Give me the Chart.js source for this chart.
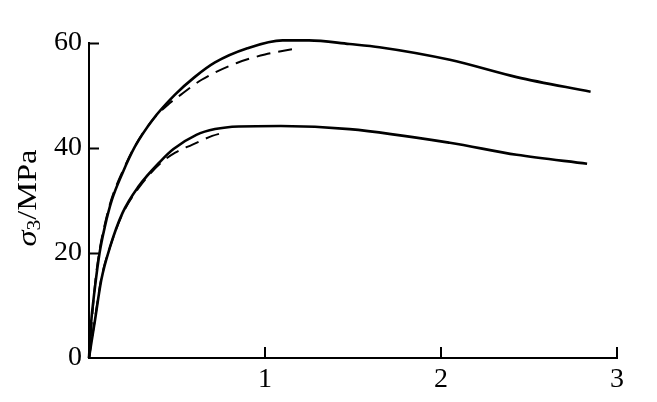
<!DOCTYPE html>
<html><head><meta charset="utf-8">
<script src="https://cdn.jsdelivr.net/npm/chart.js@4/dist/chart.umd.min.js"></script>
<style>html,body{margin:0;padding:0;background:#fff}#w{width:657px;height:402px}</style>
</head><body><div id="w"><canvas id="c" width="657" height="402"></canvas></div>
<script>
const upperSolidX = [0, 0.01, 0.034, 0.06, 0.09, 0.13, 0.19, 0.26, 0.36, 0.49, 0.60, 0.716, 0.90, 1.10, 1.25, 1.48, 1.65, 2.05, 2.43, 2.85];
const upperSolidY = [0, 5.9, 13.5, 20, 25, 30.1, 35.2, 40.2, 45.3, 50.2, 53.5, 56.3, 59, 60.5, 60.5, 59.8, 59.2, 56.8, 53.5, 50.7];
const lowerSolidX = [0, 0.034, 0.07, 0.12, 0.19, 0.28, 0.41, 0.48, 0.61, 0.716, 0.85, 1.09, 1.48, 2.05, 2.43, 2.83];
const lowerSolidY = [0, 7.2, 14.9, 21.2, 27.6, 32.6, 37.6, 39.8, 42.5, 43.6, 44.1, 44.2, 43.6, 41, 38.7, 37];
const upperDashX = [0, 0.034, 0.06, 0.09, 0.13, 0.19, 0.26, 0.36, 0.45, 0.50, 0.64, 0.84, 1.00, 1.17];
const upperDashY = [0, 14, 20.5, 25.5, 30.5, 35.5, 40.3, 45.3, 48.3, 49.6, 53, 56.2, 57.8, 58.9];
const lowerDashX = [0, 0.034, 0.07, 0.12, 0.19, 0.28, 0.41, 0.49, 0.585, 0.70, 0.76];
const lowerDashY = [0, 7.5, 15.2, 21.2, 27.4, 32.3, 37.2, 39.1, 40.6, 42.3, 42.9];
const xTicks = [1, 2, 3];
const yTicks = [0, 20, 40, 60];
const yLabelMain = "σ";
const yLabelSub = "3";
const yLabelRest = "/MPa";

const pts = (xs, ys) => xs.map((x, i) => ({x: x, y: ys[i]}));
const FONT = "'Liberation Serif', 'Times New Roman', serif";

const innerTicks = {
  id: 'innerTicks',
  afterDraw(chart) {
    const ctx = chart.ctx, xs = chart.scales.x, ys = chart.scales.y;
    ctx.save();
    ctx.strokeStyle = '#000';
    ctx.lineWidth = 2;
    ctx.beginPath();
    yTicks.filter(v => v > 0).forEach(v => {
      const p = Math.round(ys.getPixelForValue(v)) + 0.5;
      ctx.moveTo(xs.left, p); ctx.lineTo(xs.left + 10, p);
    });
    xTicks.forEach(v => {
      const p = Math.round(xs.getPixelForValue(v));
      ctx.moveTo(p, ys.bottom); ctx.lineTo(p, ys.bottom - 11);
    });
    ctx.stroke();
    // y title
    ctx.translate(29, 198);
    ctx.rotate(-Math.PI / 2);
    ctx.scale(1.2, 1);
    ctx.fillStyle = '#000';
    ctx.textBaseline = 'middle';
    const f1 = "italic 27px " + FONT, f2 = "18px " + FONT, f3 = "27px " + FONT;
    ctx.font = f1; const w1 = ctx.measureText(yLabelMain).width;
    ctx.font = f2; const w2 = ctx.measureText(yLabelSub).width;
    ctx.font = f3; const w3 = ctx.measureText(yLabelRest).width;
    let x0 = -(w1 + w2 + w3) / 2;
    ctx.font = f1; ctx.fillText(yLabelMain, x0, 0); x0 += w1;
    ctx.font = f2; ctx.fillText(yLabelSub, x0, 6); x0 += w2;
    ctx.font = f3; ctx.fillText(yLabelRest, x0, 0);
    ctx.restore();
  }
};

const lineDs = (data, dashed) => ({
  data: data,
  borderColor: '#000',
  borderWidth: dashed ? 2 : 2.6,
  borderDash: dashed ? [14, 8] : [],
  pointRadius: 0,
  fill: false,
  clip: false,
  cubicInterpolationMode: 'monotone'
});

new Chart(document.getElementById('c'), {
  type: 'line',
  data: {
    datasets: [
      lineDs(pts(upperSolidX, upperSolidY), false),
      lineDs(pts(lowerSolidX, lowerSolidY), false),
      lineDs(pts(upperDashX, upperDashY), true),
      lineDs(pts(lowerDashX, lowerDashY), true)
    ]
  },
  options: {
    responsive: false,
    animation: false,
    layout: {padding: {left: 0, top: 43, right: 40, bottom: 0}},
    plugins: {legend: {display: false}, tooltip: {enabled: false}},
    scales: {
      x: {
        type: 'linear', min: 0, max: 3,
        afterBuildTicks: s => { s.ticks = xTicks.map(v => ({value: v})); },
        afterFit: s => { s.height = 44; },
        grid: {display: true, drawOnChartArea: false, drawTicks: false},
        border: {display: true, color: '#000', width: 2},
        ticks: {color: '#000', font: {family: FONT, size: 28}, padding: 5, maxRotation: 0}
      },
      y: {
        type: 'linear', min: 0, max: 60,
        afterBuildTicks: s => { s.ticks = yTicks.map(v => ({value: v})); },
        afterFit: s => { s.width = 89; },
        grid: {display: true, drawOnChartArea: false, drawTicks: false},
        border: {display: true, color: '#000', width: 2},
        ticks: {color: '#000', font: {family: FONT, size: 28}, padding: 7}
      }
    }
  },
  plugins: [innerTicks]
});
</script></body></html>
